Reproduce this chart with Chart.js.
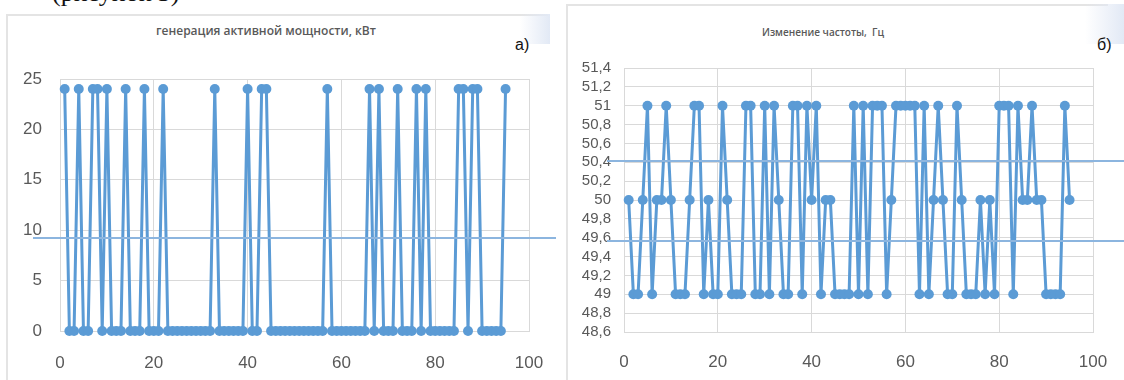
<!DOCTYPE html>
<html lang="ru">
<head>
<meta charset="utf-8">
<title>генерация и частота</title>
<script src="https://cdn.jsdelivr.net/npm/chart.js@4.4.1/dist/chart.umd.min.js"></script>
<style>
  html, body { margin: 0; padding: 0; background: #fff; }
  body { width: 1124px; height: 380px; position: relative; overflow: hidden; font-family: "Liberation Sans", Arial, sans-serif; }
  .abs { position: absolute; }
  .cap { font-family: "Liberation Serif", serif; font-size: 26px; line-height: 26px; top: -20px; left: 52px; color: #111; }
  .frame { border-top: 2px solid #e4e4e4; border-left: 2px solid #e4e4e4; }
  .title { font-family: "Open Sans", sans-serif; font-weight: 600; color: #595959; text-align: center; white-space: pre; }
  .tag { font-size: 16px; color: #111; }
  .hl { height: 2px; background: #8cb5df; }
  .fade { background: linear-gradient(90deg, rgba(234,239,247,0), rgba(226,233,245,1)); }
  canvas { position: absolute; }
</style>
</head>
<body>
<div class="abs cap">(рисунок 3)</div>

<div class="abs frame" style="left:6px; top:14px; width:540px; height:380px;"></div>
<div class="abs fade" style="left:520px; top:14px; width:30px; height:30px;"></div>
<div class="abs frame" style="left:566px; top:4px; width:540px; height:380px;"></div>
<div class="abs fade" style="left:1085px; top:4px; width:39px; height:40px;"></div>

<div class="abs title" style="left:0; top:22px; width:532px; font-size:12px;">генерация активной мощности, кВт</div>
<div class="abs tag" style="left:515px; top:36px;">а)</div>
<div class="abs title" style="left:723px; top:25px; width:200px; font-size:10px;">Изменение частоты,  Гц</div>
<div class="abs tag" style="left:1097px; top:36px;">б)</div>

<canvas id="chartPower" width="530" height="330" style="left:15px; top:50px;"></canvas>
<canvas id="chartFreq" width="540" height="330" style="left:570px; top:50px;"></canvas>

<div class="abs hl" style="left:33px; top:237px; width:523px;"></div>
<div class="abs hl" style="left:607px; top:160px; width:517px;"></div>
<div class="abs hl" style="left:607px; top:240px; width:517px;"></div>

<script>
// генерация активной мощности, кВт (отсчёты 1..95)
const powerKW = [
  24, 0, 0, 24, 0, 0, 24, 24, 0, 24,
  0, 0, 0, 24, 0, 0, 0, 24, 0, 0,
  0, 24, 0, 0, 0, 0, 0, 0, 0, 0,
  0, 0, 24, 0, 0, 0, 0, 0, 0, 24,
  0, 0, 24, 24, 0, 0, 0, 0, 0, 0,
  0, 0, 0, 0, 0, 0, 24, 0, 0, 0,
  0, 0, 0, 0, 0, 24, 0, 24, 0, 0,
  0, 24, 0, 0, 0, 24, 0, 24, 0, 0,
  0, 0, 0, 0, 24, 24, 0, 24, 24, 0,
  0, 0, 0, 0, 24
];

// изменение частоты, Гц
const freqHz = [
  50, 49, 49, 50, 51, 49, 50, 50, 51, 50,
  49, 49, 49, 50, 51, 51, 49, 50, 49, 49,
  51, 50, 49, 49, 49, 51, 51, 49, 49, 51,
  49, 51, 50, 49, 49, 51, 51, 49, 51, 50,
  51, 49, 50, 50, 49, 49, 49, 49, 51, 49,
  51, 49, 51, 51, 51, 49, 50, 51, 51, 51,
  51, 51, 49, 51, 49, 50, 51, 50, 49, 49,
  51, 50, 49, 49, 49, 50, 49, 50, 49, 51,
  51, 51, 49, 51, 50, 50, 51, 50, 50, 49,
  49, 49, 49, 51, 50
];

const xTicks = [0, 20, 40, 60, 80, 100];
const powerTicks = [0, 5, 10, 15, 20, 25];
const freqTicks = [48.6, 48.8, 49, 49.2, 49.4, 49.6, 49.8, 50, 50.2, 50.4, 50.6, 50.8, 51, 51.2, 51.4];
const freqTickLabels = ['48,6', '48,8', '49', '49,2', '49,4', '49,6', '49,8', '50', '50,2', '50,4', '50,6', '50,8', '51', '51,2', '51,4'];

const blue = '#5b9bd5';
const gridColor = '#d9d9d9';
const tickColor = '#595959';

const toPoints = arr => arr.map((v, i) => ({ x: i + 1, y: v }));
const fixTicks = values => scale => { scale.ticks = values.map(v => ({ value: v })); };

// отступ подписи делаем через невидимую засечку, чтобы не раздувать поля
function makeChart(el, values, opts) {
  return new Chart(el, {
    type: 'scatter',
    data: {
      datasets: [{
        data: toPoints(values),
        showLine: true,
        borderColor: blue,
        borderWidth: 3,
        backgroundColor: blue,
        pointRadius: 5,
        pointBorderWidth: 0,
        pointHoverRadius: 5,
        clip: false
      }]
    },
    options: {
      responsive: false,
      animation: false,
      devicePixelRatio: 1,
      layout: { padding: opts.pad },
      plugins: { legend: { display: false }, tooltip: { enabled: false } },
      scales: {
        x: {
          type: 'linear', min: 0, max: 100,
          afterBuildTicks: fixTicks(xTicks),
          afterFit: s => { s.height = opts.xh; },
          grid: { color: gridColor, drawTicks: true, tickLength: opts.xpad, tickColor: 'rgba(0,0,0,0)' },
          border: { color: gridColor },
          ticks: { color: tickColor, padding: 0, maxRotation: 0, autoSkip: false, font: { family: 'Liberation Sans', size: 17 } }
        },
        y: {
          type: 'linear', min: opts.ymin, max: opts.ymax,
          afterBuildTicks: fixTicks(opts.yTicks),
          afterFit: s => { s.width = opts.yw; },
          grid: { color: gridColor, drawTicks: true, tickLength: opts.ypad, tickColor: 'rgba(0,0,0,0)' },
          border: { color: gridColor },
          ticks: {
            color: tickColor, padding: 0, autoSkip: false,
            font: { family: 'Liberation Sans', size: opts.yfs },
            callback: opts.ylabel
          }
        }
      }
    }
  });
}

makeChart(document.getElementById('chartPower'), powerKW, {
  pad: { left: 0, top: 29, right: 16, bottom: 0 },
  xh: 49, yw: 45, xpad: 22, ypad: 18, yfs: 17,
  ymin: 0, ymax: 25, yTicks: powerTicks,
  ylabel: v => String(v)
});

makeChart(document.getElementById('chartFreq'), freqHz, {
  pad: { left: 0, top: 18, right: 17, bottom: 0 },
  xh: 48, yw: 54, xpad: 20, ypad: 13, yfs: 15,
  ymin: 48.6, ymax: 51.4, yTicks: freqTicks,
  ylabel: (v, i) => freqTickLabels[i]
});
</script>
</body>
</html>
